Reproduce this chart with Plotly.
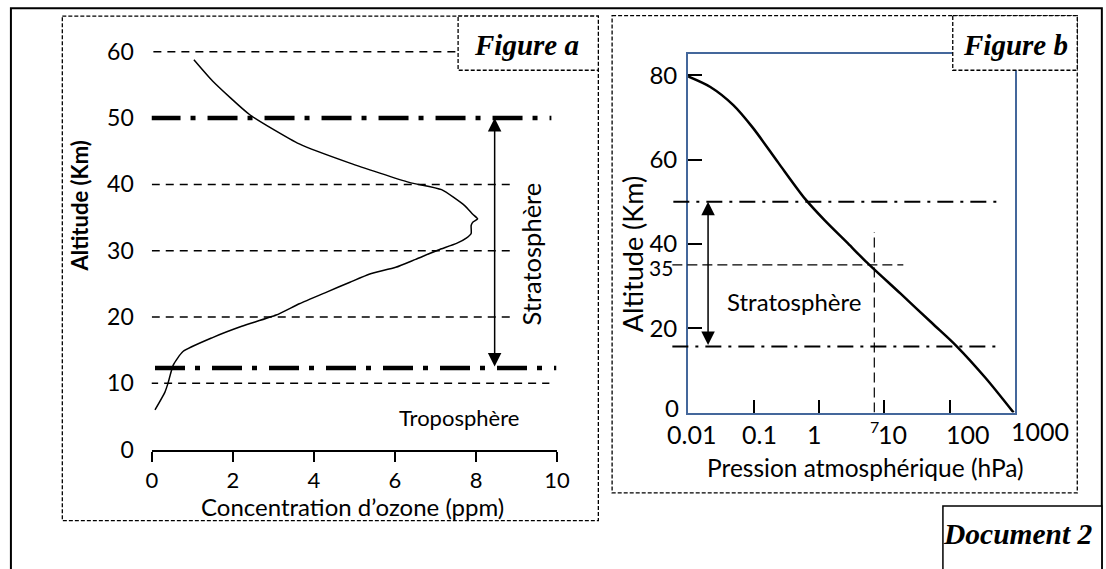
import math
import plotly.graph_objects as go

W, H = 1106, 569

# ---------------- data : figure a ----------------
ozone_ppm = [1.04, 1.5, 2.42, 3.64, 4.89, 6.35, 7.15, 7.72, 7.92, 8.04, 7.92, 7.88,
             7.88, 7.76, 7.52, 7.07, 6.51, 6.02, 5.38, 4.89, 4.33, 3.64, 3.07, 2.22,
             1.5, 0.77, 0.53, 0.40, 0.32, 0.08]
ozone_alt_km = [58.8, 55.6, 50.5, 46.1, 43.2, 40.3, 39.2, 36.8, 35.5, 34.8, 34.3, 33.8,
                32.6, 31.9, 31.1, 30.1, 28.7, 27.5, 26.5, 25.25, 23.8, 22.0, 20.3, 18.6,
                16.9, 14.8, 12.75, 10.0, 8.6, 6.0]
alt_ticks_a = [0, 10, 20, 30, 40, 50, 60]
conc_ticks = [0, 2, 4, 6, 8, 10]
guide_alt_a = [60, 40, 30, 20, 10]
strat_bounds_a = [50, 12.3]

# ---------------- data : figure b ----------------
pressure_hpa = [0.01, 0.0219, 0.0491, 0.098, 0.24, 0.618, 1.235, 2.77, 5.22,
                17.5, 55.3, 124, 351, 940]
pressure_alt_km = [79.7, 77.2, 72.9, 67.5, 59.2, 50.6, 45.5, 40.1, 35.8,
                   28.25, 21.0, 15.9, 8.2, 0.0]
alt_ticks_b = [20, 40, 60, 80]
pressure_ticks = [0.01, 0.1, 1, 10, 100, 1000]
pressure_tick_labels = ["0.01", "0.1", "1", "10", "100", "1000"]
strat_bounds_b = [50, 15.7]
ref_pressure = 7
ref_alt = 35

# ---------------- layout helpers (pixel -> paper) ----------------
def px(x):
    return x / W

def py(y):
    return 1 - y / H

SANS = "Lato"
SERIF = "Liberation Serif"
BLUE = "#44679b"

fig = go.Figure()

fig.add_trace(go.Scatter(x=ozone_ppm, y=ozone_alt_km, mode="lines",
                         line=dict(color="black", width=1.5, shape="spline", smoothing=0.5),
                         xaxis="x", yaxis="y", showlegend=False, hoverinfo="skip"))
fig.add_trace(go.Scatter(x=pressure_hpa, y=pressure_alt_km, mode="lines",
                         line=dict(color="black", width=2.5, shape="spline", smoothing=0.8),
                         xaxis="x2", yaxis="y2", showlegend=False, hoverinfo="skip"))

shapes = []
# outer frame
shapes.append(dict(type="rect", xref="paper", yref="paper", x0=px(5), y0=py(7.5),
                   x1=px(1115), y1=py(590), line=dict(color="black", width=2)))
# dashed panel boxes
for (l, t, r, b) in [(57.3, 15.5, 602.7, 532.7), (616.7, 15, 1090, 504.3)]:
    shapes.append(dict(type="rect", xref="paper", yref="paper", x0=px(l), y0=py(t),
                       x1=px(r), y1=py(b), line=dict(color="black", width=1.3, dash="4px,2px")))

# figure a guide lines
guide_ext = {60: (0.04, 7.6), 40: (0.0, 8.84), 30: (0.0, 8.84), 20: (0.0, 8.84), 10: (-0.04, 9.81)}
for a in guide_alt_a:
    x0, x1 = guide_ext[a]
    shapes.append(dict(type="line", xref="x", yref="y", x0=x0, x1=x1, y0=a, y1=a,
                       line=dict(color="black", width=1.5, dash="8px,6px")))
dd_ext_a = [(-0.03, 9.86), (0.08, 9.98)]
for a, (x0, x1) in zip(strat_bounds_a, dd_ext_a):
    shapes.append(dict(type="line", xref="x", yref="y", x0=x0, x1=x1, y0=a, y1=a,
                       line=dict(color="black", width=4.5, dash="30px,10px,5px,12px")))

# figure b guide lines
dd_ext_b = [(679, 1011), (678, 1010)]
for a, (l, r) in zip(strat_bounds_b, dd_ext_b):
    shapes.append(dict(type="line", xref="paper", yref="y2", x0=px(l), x1=px(r), y0=a, y1=a,
                       line=dict(color="black", width=2, dash="16px,7px,3px,7px")))
shapes.append(dict(type="line", xref="paper", yref="y2", x0=px(678), x1=px(913), y0=ref_alt, y1=ref_alt,
                   line=dict(color="black", width=1.2, dash="10px,5px")))
shapes.append(dict(type="line", xref="x2", yref="y2", x0=ref_pressure, x1=ref_pressure, y0=0, y1=42.8,
                   line=dict(color="black", width=1.2, dash="10px,5px")))

# label boxes (white filled, on top)
shapes.append(dict(type="rect", xref="paper", yref="paper", x0=px(460), y0=py(15.5), x1=px(602.7), y1=py(71),
                   line=dict(color="black", width=1.3, dash="4px,2px"), fillcolor="white"))
shapes.append(dict(type="rect", xref="paper", yref="paper", x0=px(963.3), y0=py(15), x1=px(1090), y1=py(71),
                   line=dict(color="black", width=1.3, dash="4px,2px"), fillcolor="white"))
shapes.append(dict(type="rect", xref="paper", yref="paper", x0=px(953.3), y0=py(517.7), x1=px(1115), y1=py(590),
                   line=dict(color="black", width=1.5), fillcolor="white"))

ann = []
def text(t, x, y, size, family=SANS, angle=0, bold=False, italic=False, **kw):
    s = t
    if bold:
        s = "<b>" + s + "</b>"
    if italic:
        s = "<i>" + s + "</i>"
    d = dict(text=s, x=px(x), y=py(y), xref="paper", yref="paper", showarrow=False,
             xanchor="center", yanchor="middle", textangle=angle,
             font=dict(family=family, size=size, color="black"))
    d.update(kw)
    ann.append(d)

text("Figure a", 530, 45, 29, family=SERIF, bold=True, italic=True)
text("Figure b", 1026.7, 45, 29, family=SERIF, bold=True, italic=True)
text("Document 2", 1030, 546, 29.5, family=SERIF, bold=True, italic=True)
text("Altitude (Km)", 75, 210, 22, bold=True, angle=-90)
text("Concentration d’ozone (ppm)", 353, 518, 24)
text("Troposphère", 461, 427, 22)
text("Stratosphère", 534, 259, 25.5, angle=-90)
text("Altitude (Km)", 637.5, 260, 27, angle=-90)
text("Pression atmosphérique (hPa)", 875, 478, 24.5)
text("Stratosphère", 801.7, 308, 24)

# arrows (stratosphere extent)
ann.append(dict(x=8.46, y=strat_bounds_a[0], ax=8.46, ay=strat_bounds_a[1], xref="x", yref="y",
                axref="x", ayref="y", text="", showarrow=True, arrowside="end+start",
                arrowhead=2, arrowsize=1.8, arrowwidth=1.5, arrowcolor="black", standoff=0, startstandoff=0))
xa = math.log10(0.0202)
ann.append(dict(x=xa, y=strat_bounds_b[0], ax=xa, ay=strat_bounds_b[1], xref="x2", yref="y2",
                axref="x2", ayref="y2", text="", showarrow=True, arrowside="end+start",
                arrowhead=2, arrowsize=1.8, arrowwidth=1.5, arrowcolor="black", standoff=0, startstandoff=0))

# figure b pressure tick labels (hand-placed in the original)
label_shift = [3, 6, -4, 8, 18, 25]
label_dy = [444, 444, 444, 444, 444, 441]
for v, lab, sh, yy in zip(pressure_ticks, pressure_tick_labels, label_shift, label_dy):
    ann.append(dict(text=lab, x=math.log10(v), xref="x2", y=py(yy), yref="paper", xshift=sh,
                    showarrow=False, xanchor="center", yanchor="middle",
                    font=dict(family=SANS, size=25, color="black")))
ann.append(dict(text=str(ref_pressure), x=math.log10(ref_pressure), xref="x2", y=py(436), yref="paper",
                showarrow=False, xanchor="center", yanchor="middle",
                font=dict(family=SANS, size=16, color="black")))
ann.append(dict(text="0", x=px(687), xref="paper", y=0, yref="y2", yshift=5, showarrow=False,
                xanchor="right", yanchor="middle", font=dict(family=SANS, size=24, color="black")))
ann.append(dict(text=str(ref_alt), x=px(681), xref="paper", y=ref_alt, yref="y2", yshift=-3, showarrow=False,
                xanchor="right", yanchor="middle", font=dict(family=SANS, size=21, color="black")))

fig.update_layout(
    width=W, height=H, margin=dict(l=0, r=0, t=0, b=0),
    paper_bgcolor="white", plot_bgcolor="rgba(0,0,0,0)", showlegend=False,
    xaxis=dict(domain=[px(148.3), px(560.7)], range=[0, 10], anchor="y",
               showline=True, linecolor="black", linewidth=2, ticks="outside", ticklen=10,
               tickwidth=1.5, tickcolor="black", tickmode="array", tickvals=conc_ticks,
               tickfont=dict(family=SANS, size=22, color="black"),
               showgrid=False, zeroline=False),
    yaxis=dict(domain=[py(460), py(460 - 62 * 6.8)], range=[0, 62], anchor="x",
               showline=False, ticks="", tickmode="array", tickvals=alt_ticks_a,
               tickfont=dict(family=SANS, size=23, color="black"), ticklabelstandoff=17,
               showgrid=False, zeroline=False),
    xaxis2=dict(domain=[px(694), px(1027)], type="log", range=[-2, 3], anchor="y2",
                showline=True, linecolor=BLUE, linewidth=2, mirror=True,
                ticks="inside", ticklen=13, tickwidth=1.5, tickcolor="black",
                tickmode="array", tickvals=[0.1, 1, 10, 100], showticklabels=False,
                showgrid=False, zeroline=False),
    yaxis2=dict(domain=[py(422), py(54)], range=[0, (422 - 54) / 4.325], anchor="x2",
                showline=True, linecolor=BLUE, linewidth=2, mirror=True,
                ticks="inside", ticklen=14, tickwidth=1.5, tickcolor="black",
                tickmode="array", tickvals=alt_ticks_b,
                tickfont=dict(family=SANS, size=24, color="black"), ticklabelstandoff=4,
                showgrid=False, zeroline=False),
    shapes=shapes, annotations=ann,
)

fig.write_html("out.html", config={"displayModeBar": False},
               post_script="document.body.style.margin='0px';document.body.style.overflow='hidden';")
